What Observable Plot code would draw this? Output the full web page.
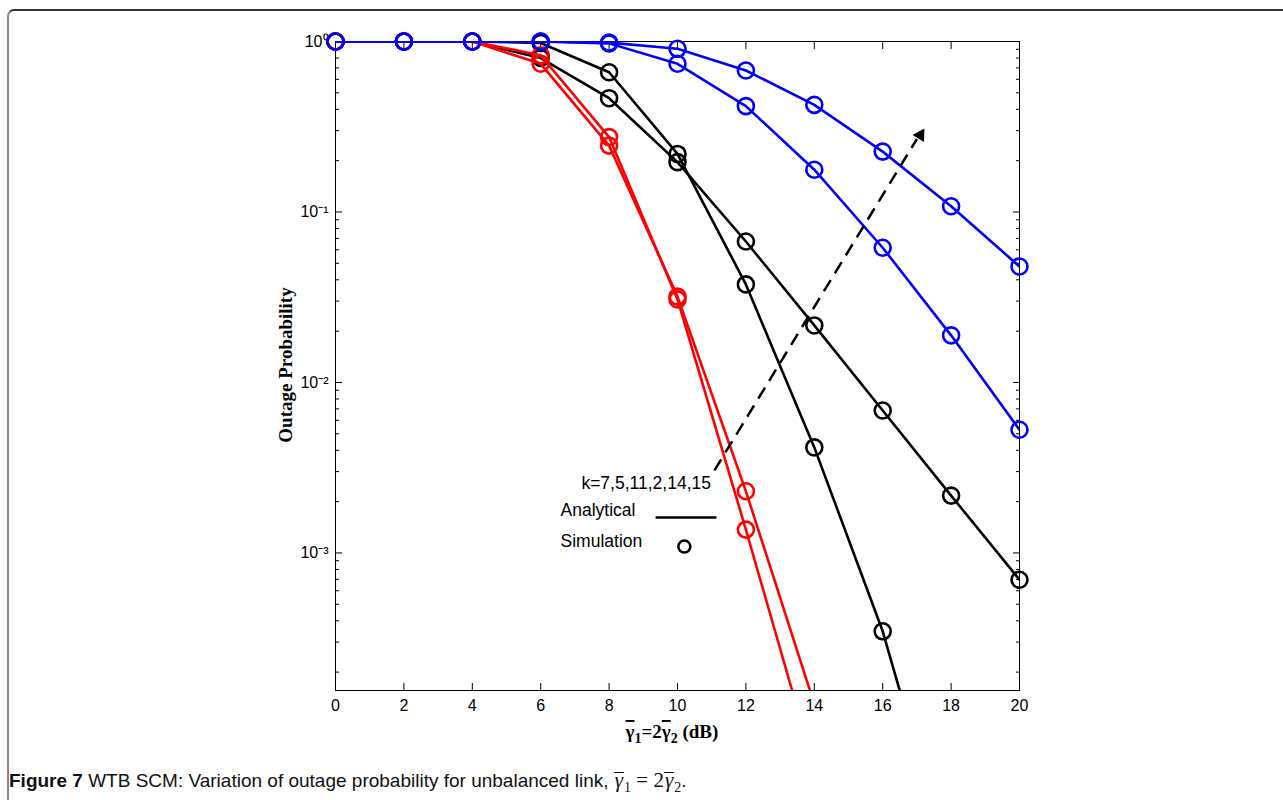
<!DOCTYPE html>
<html><head><meta charset="utf-8">
<script src="https://cdn.jsdelivr.net/npm/d3@7"></script>
<script src="https://cdn.jsdelivr.net/npm/@observablehq/plot@0.6"></script>
<style>
body{margin:0;background:#fff;width:1283px;height:800px;overflow:hidden;position:relative;font-family:"Liberation Sans",Arial,sans-serif}
#frame{position:absolute;left:7px;top:9px;right:-20px;bottom:-20px;border-top:2px solid #333;border-left:2px solid #888;border-top-left-radius:7px}
#chart{position:absolute;left:0;top:0}
#caption{position:absolute;left:9px;top:768px;font-size:19px;color:#111;white-space:nowrap;font-family:"Liberation Sans",Arial,sans-serif;line-height:24px}
#caption b{font-weight:bold}
.m{font-family:"Liberation Serif","Times New Roman",serif;font-size:21px}
.ov{display:inline-block;border-top:1.6px solid #111;line-height:15px;font-style:italic;padding:0 1px}
#caption sub{font-size:14px}
</style></head><body>
<div id="frame"></div>
<div id="chart"></div>
<div id="caption"><b>Figure 7</b> WTB SCM: Variation of outage probability for unbalanced link, <span class="m"><span class="ov">γ</span><sub>1</sub> = 2<span class="ov">γ</span><sub>2</sub></span>.</div>
<script>
// ---- data ----
const xVals = [0, 2, 4, 6, 8, 10, 12, 14, 16, 18, 20];
const black1 = [1, 1, 1, 0.98, 0.66, 0.219, 0.0376, 0.00416, 3.47e-4, 1.4e-5, 4e-7];
const black2 = [1, 1, 1, 0.80, 0.465, 0.196, 0.0671, 0.0216, 0.00685, 0.00217, 6.96e-4];
const red1   = [1, 1, 1, 0.83, 0.275, 0.0307, 0.00137, 5.5e-5, 1.5e-6, 3e-8, 5e-10];
const red2   = [1, 1, 1, 0.74, 0.245, 0.0319, 0.0023, 1.3e-4, 4e-6, 1e-7, 2e-9];
const blue1  = [1, 1, 1, 1, 0.975, 0.74, 0.418, 0.177, 0.0617, 0.0189, 0.00528];
const blue2  = [1, 1, 1, 1, 0.985, 0.906, 0.676, 0.425, 0.226, 0.108, 0.0479];
const seriesNames  = ["black1", "black2", "red1", "red2", "blue1", "blue2"];
const seriesColors = ["black", "black", "red", "red", "blue", "blue"];
const seriesValues = [black1, black2, red1, red2, blue1, blue2];

const xTicks = [0, 2, 4, 6, 8, 10, 12, 14, 16, 18, 20];
const yMajor = [1e-3, 1e-2, 1e-1, 1];
const yMajorLabels = ["10\u207B\u00B3", "10\u207B\u00B2", "10\u207B\u00B9", "10\u2070"];
const yDomain = [1.56e-4, 1];
const yMinor = [-4, -3, -2, -1].flatMap(k => [2,3,4,5,6,7,8,9].map(d => d * Math.pow(10, k))).filter(v => v >= yDomain[0] && v <= 1);

const legendTexts = [
  {x: 7.19, y: 0.00256, text: "k=7,5,11,2,14,15"},
  {x: 6.58, y: 0.001775, text: "Analytical"},
  {x: 6.58, y: 0.001167, text: "Simulation"}
];
const legendLine = [{x1: 9.36, x2: 11.14, y: 0.001615}];
const legendDot = [{x: 10.2, y: 0.00109}];
const arrowShaft = [{x1: 11.08, y1: 0.00305, x2: 17.0, y2: 0.268}];
const arrowHead = [{x: 17.1, y: 0.282}];

// ---- build ----
const rows = seriesNames.flatMap((s, i) => xVals.map((x, j) => ({series: s, color: seriesColors[i], x, y: seriesValues[i][j]})));
const labelMap = new Map(yMajor.map((v, i) => [v, yMajorLabels[i]]));
const tickFont = "'Liberation Sans Narrow', 'Liberation Sans', Arial, sans-serif";

const marks = [
  Plot.frame({stroke: "black", strokeWidth: 1}),
  Plot.axisX(xTicks, {anchor: "bottom", tickSize: -7, tickPadding: 16, label: null, fontSize: 16, fontFamily: tickFont}),
  Plot.axisX(xTicks, {anchor: "top", tickSize: -7, tickFormat: () => "", label: null}),
  Plot.axisY(yMajor, {anchor: "left", tickSize: -7, tickPadding: 14, tickFormat: d => labelMap.get(d), label: null, fontSize: 16}),
  Plot.axisY(yMinor, {anchor: "left", tickSize: -4, tickFormat: () => "", label: null}),
  Plot.axisY(yMajor, {anchor: "right", tickSize: -7, tickFormat: () => "", label: null}),
  Plot.axisY(yMinor, {anchor: "right", tickSize: -4, tickFormat: () => "", label: null})
];
seriesNames.forEach((s, i) => {
  const data = rows.filter(r => r.series === s);
  marks.push(Plot.line(data, {x: "x", y: "y", stroke: seriesColors[i], strokeWidth: 2.6, strokeLinejoin: "round", clip: true}));
  marks.push(Plot.dot(data.filter(d => d.y >= yDomain[0]), {x: "x", y: "y", r: 8, stroke: seriesColors[i], strokeWidth: 2.6, fill: "none"}));
});
marks.push(
  Plot.link(arrowShaft, {x1: "x1", y1: "y1", x2: "x2", y2: "y2", stroke: "black", strokeWidth: 2.5, strokeDasharray: "13,8"}),
  Plot.dot(arrowHead, {x: "x", y: "y", symbol: "triangle", r: 5, fill: "black", rotate: 31.5}),
  Plot.text(legendTexts, {x: "x", y: "y", text: "text", textAnchor: "start", fontSize: 17.5, fill: "black"}),
  Plot.link(legendLine, {x1: "x1", x2: "x2", y1: "y", y2: "y", stroke: "black", strokeWidth: 2.5}),
  Plot.dot(legendDot, {x: "x", y: "y", r: 6, stroke: "black", strokeWidth: 2.5, fill: "none"})
);

const chart = Plot.plot({
  width: 1283,
  height: 760,
  marginLeft: 335,
  marginRight: 264,
  marginTop: 41,
  marginBottom: 70,
  style: {fontFamily: "'Liberation Sans', Arial, sans-serif", fontSize: "16px", color: "black", background: "transparent"},
  x: {domain: [0, 20]},
  y: {type: "log", domain: yDomain},
  marks
});
document.getElementById("chart").appendChild(chart);

const svg = d3.select(chart);
svg.append("text")
  .attr("transform", "translate(292,365) rotate(-90)")
  .attr("text-anchor", "middle")
  .style("font", "bold 19px 'Liberation Serif', 'Times New Roman', serif")
  .text("Outage Probability");
const xl = svg.append("text")
  .attr("x", 672).attr("y", 738)
  .attr("text-anchor", "middle")
  .style("font", "bold 19px 'Liberation Serif', 'Times New Roman', serif");
xl.append("tspan").style("text-decoration", "overline").text("γ");
xl.append("tspan").attr("dy", 5).style("font-size", "14px").text("1");
xl.append("tspan").attr("dy", -5).text("=2");
xl.append("tspan").style("text-decoration", "overline").text("γ");
xl.append("tspan").attr("dy", 5).style("font-size", "14px").text("2");
xl.append("tspan").attr("dy", -5).text(" (dB)");
</script>
</body></html>
